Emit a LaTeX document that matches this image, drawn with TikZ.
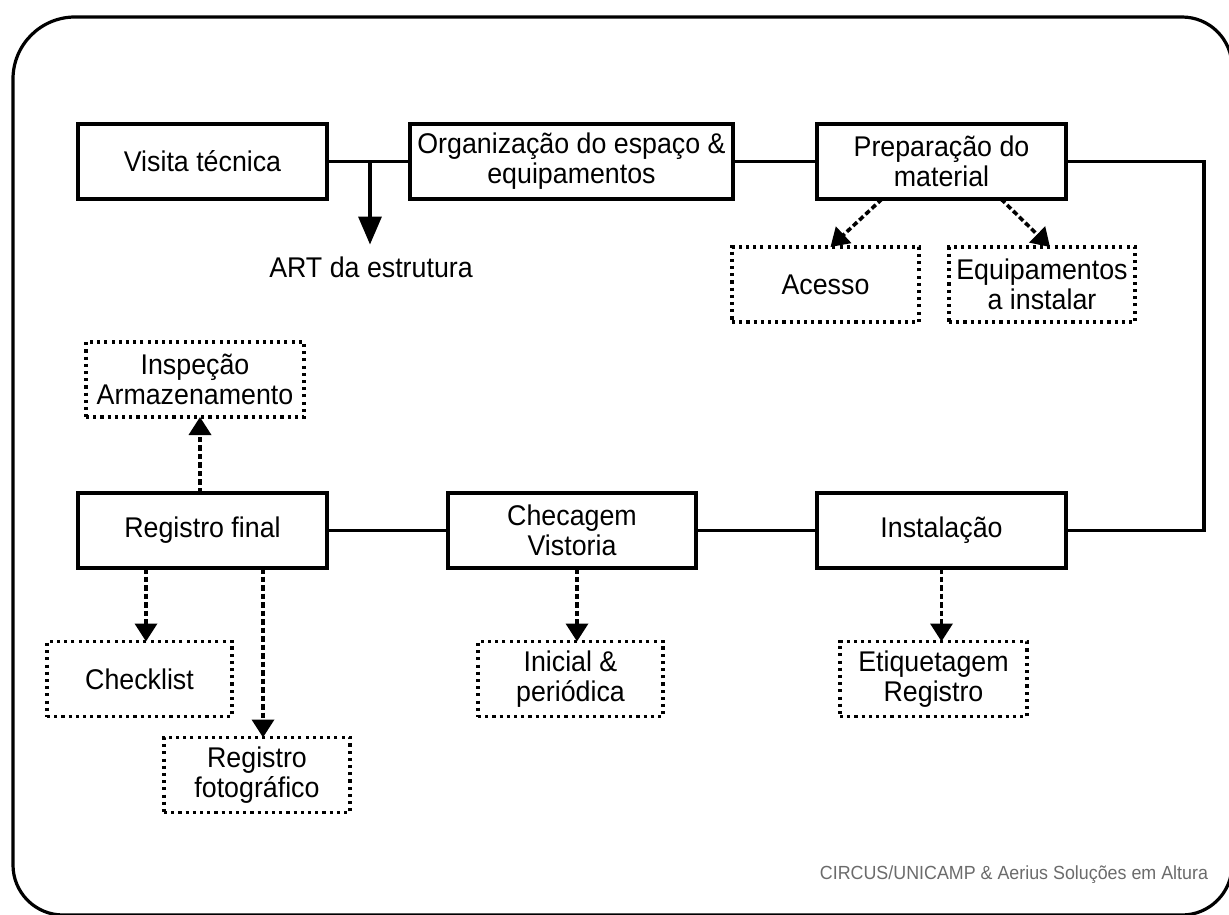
\documentclass[tikz,border=0pt]{standalone}
\usepackage{fontspec}
\setmainfont{Liberation Sans}[FakeStretch=0.94]
\usetikzlibrary{arrows.meta}
\begin{document}
\begin{tikzpicture}[x=1pt,y=-1pt,
  every node/.style={font=\fontsize{28.5}{30}\selectfont, align=center, inner sep=0pt, outer sep=0pt},
  solidbox/.style={draw, line width=3.4pt, minimum width=249pt, minimum height=75pt},
  dotbox/.style={draw, line width=3.3pt, dash pattern=on 3.1pt off 4.1pt, minimum width=186pt, minimum height=75pt},
  conn/.style={line width=3.2pt},
  darr/.style={line width=3.6pt, dash pattern=on 5.5pt off 3pt, -{Triangle[length=18pt,width=22pt]}},
  sarr/.style={line width=3.4pt, -{Triangle[length=28pt,width=23pt]}}
]
\useasboundingbox (0,0) rectangle (1229,915);
\clip (0,0) rectangle (1229,915);
\draw[line width=3.2pt] (13,500) [rounded corners=62pt] -- (13,17) -- (700,17)
  [rounded corners=50pt] -- (1232,17) -- (1232,915) -- (13,915) -- cycle;

% main boxes
\node[solidbox] (vis) at (202.5,161.5) {Visita técnica};
\node[solidbox, minimum width=323pt] (org) at (571.5,161.5) {Organização do espaço \&\\equipamentos};
\node[solidbox] (prep) at (941.5,161.5) {Preparação do\\material};
\node[solidbox] (reg) at (202.5,530.5) {Registro final};
\node[solidbox, minimum width=248pt] (chk) at (572,530.5) {Checagem\\Vistoria};
\node[solidbox] (inst) at (941.5,530.5) {Instalação};

% dotted boxes
\node[dotbox, minimum width=187pt] (acesso) at (825.5,284.5) {Acesso};
\node[dotbox] (equip) at (1042,284.5) {Equipamentos\\a instalar};
\node[dotbox, minimum width=218pt] (insp) at (195,379.5) {Inspeção\\Armazenamento};
\node[dotbox, minimum width=185pt] (checklist) at (139.5,679) {Checklist};
\node[dotbox] (regfoto) at (257,775) {Registro\\fotográfico};
\node[dotbox, minimum width=185pt] (inicial) at (570.5,679) {Inicial \&\\periódica};
\node[dotbox, minimum width=187pt] (etiq) at (933.5,679) {Etiquetagem\\Registro};

% ART text
\node[inner sep=12pt] (art) at (371,267) {ART da estrutura};

\node[font=\fontsize{19}{21}\selectfont, text=black!58, anchor=east] (credit) at (1208,875) {CIRCUS/UNICAMP \& Aerius Soluções em Altura};

% solid connectors
\draw[conn] (vis.east) -- (org.west);
\draw[conn] (org.east) -- (prep.west);
\coordinate (j) at (370,161.5);
\draw[sarr] (j) -- (j |- art.north);
\coordinate (turn) at (1204,161.5);
\draw[conn] (prep.east) -- (turn) -- (turn |- inst.east) -- (inst.east);
\draw[conn] (inst.west) -- (chk.east);
\draw[conn] (chk.west) -- (reg.east);

% dashed arrows
\coordinate (p1) at ([xshift=-59.5]prep.south);
\coordinate (p2) at ([xshift=59.5]prep.south);
\draw[darr] (p1) -- ([xshift=5]acesso.north);
\draw[darr] (p2) -- ([xshift=8]equip.north);

\draw[darr] (inst.south) -- (inst.south |- etiq.north);
\coordinate (c1) at ([xshift=5]chk.south);
\draw[darr] (c1) -- (c1 |- inicial.north);

\coordinate (r1) at ([xshift=-56.5]reg.south);
\coordinate (r2) at ([xshift=60.5]reg.south);
\coordinate (r3) at ([xshift=-2.5]reg.north);
\draw[darr] (r1) -- (r1 |- checklist.north);
\draw[darr] (r2) -- (r2 |- regfoto.north);
\draw[darr] (r3) -- (r3 |- insp.south);
\end{tikzpicture}
\end{document}
